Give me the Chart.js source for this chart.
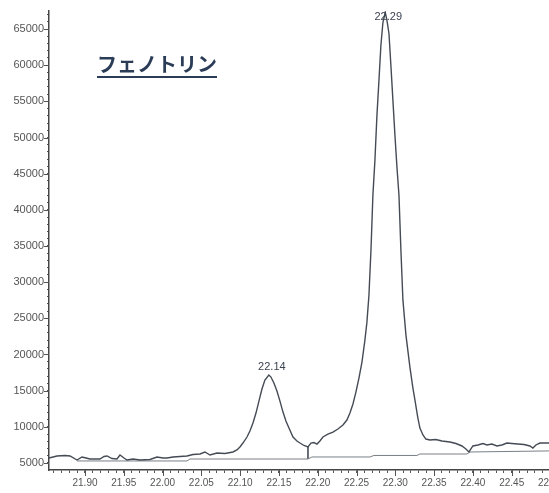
<!DOCTYPE html>
<html>
<head>
<meta charset="utf-8">
<script src="https://cdn.jsdelivr.net/npm/chart.js@4/dist/chart.umd.min.js"></script>
<style>
  html, body { margin: 0; padding: 0; background: #fff; overflow: hidden; width: 549px; height: 493px; }
  #wrap { position: relative; width: 566px; height: 493px; }
  #title {
    position: absolute; left: 97px; top: 54px;
    font: bold 20px/20px 'Noto Sans CJK JP', sans-serif;
    color: #2b3c56;
    text-decoration: underline; text-decoration-thickness: 1.5px; text-underline-offset: 4px;
    white-space: nowrap;
  }
</style>
</head>
<body>
<div id="wrap">
  <canvas id="chart" width="566" height="493"></canvas>
  <div id="title">フェノトリン</div>
</div>
<script>
// Chromatogram trace: retention time (min) and detector response
const retentionTime = [
  21.8536, 21.8639, 21.8742, 21.8807, 21.8897, 21.8961, 21.9013, 21.9064, 21.9193, 21.9245,
  21.9284, 21.9348, 21.9412, 21.9451, 21.9503, 21.9541, 21.9619, 21.9709, 21.9838, 21.9928,
  22.0005, 22.0057, 22.0134, 22.0224, 22.0314, 22.0392, 22.0482, 22.0546, 22.0611, 22.0701,
  22.0804, 22.0907, 22.0958, 22.0997, 22.1036, 22.1088, 22.1126, 22.1165, 22.1204, 22.1242,
  22.1281, 22.1319, 22.137, 22.1397, 22.1435, 22.1474, 22.1513, 22.1552, 22.1590, 22.1629,
  22.1681, 22.1732, 22.1771, 22.1822, 22.1874, 22.1913, 22.1951, 22.1990, 22.2028, 22.2067,
  22.2131, 22.2196, 22.2260, 22.2325, 22.2376, 22.2415, 22.2454, 22.2492, 22.2531, 22.2570,
  22.2608, 22.2634, 22.2660, 22.2686, 22.2711, 22.2737, 22.2763, 22.2789, 22.2814, 22.2840,
  22.287, 22.2892, 22.2918, 22.2943, 22.2969, 22.2995, 22.3021, 22.3047, 22.3072, 22.3098,
  22.3137, 22.3188, 22.3227, 22.3253, 22.3291, 22.3317, 22.3356, 22.3394, 22.3446, 22.3523,
  22.3601, 22.3704, 22.3781, 22.3859, 22.3910, 22.3949, 22.4000, 22.4065, 22.4129, 22.4181,
  22.4245, 22.4310, 22.4374, 22.4439, 22.4503, 22.4580, 22.4658, 22.4735, 22.4773, 22.4812,
  22.4864, 22.4941, 22.5018, 22.52
];
const intensity = [
  5690, 5970, 6040, 5970, 5410, 5830, 5690, 5550, 5550, 5900,
  5970, 5620, 5550, 6100, 5690, 5410, 5550, 5410, 5480, 5830,
  5690, 5690, 5830, 5900, 5970, 6170, 6240, 6520, 6100, 6380,
  6310, 6520, 6800, 7210, 7760, 8590, 9420, 10520, 11900, 13560,
  15220, 16460, 17150, 16880, 16050, 14940, 13560, 12040, 10800, 9830,
  8590, 8040, 7760, 7420, 7210, 7760, 7830, 7620, 8040, 8590,
  9000, 9280, 9700, 10250, 10940, 11900, 13150, 14800, 16740, 18950,
  21990, 24470, 28200, 34420, 42010, 46840, 53060, 57890, 62730, 65900,
  67300, 66180, 64380, 59960, 55130, 50300, 45880, 42010, 34420, 27510,
  22680, 18260, 15360, 13700, 11210, 9830, 8870, 8310, 8180, 8250,
  8040, 7900, 7690, 7350, 6930, 6520, 7350, 7490, 7690, 7490,
  7620, 7350, 7490, 7760, 7690, 7620, 7550, 7350, 7070, 7490,
  7760, 7760, 7760, 7700
];

// Integration baseline
const baselineTime = [21.8897, 22.0314, 22.0353, 22.1874, 22.1925, 22.2673, 22.2724, 22.3279, 22.3317, 22.3923, 22.3962, 22.52];
const baselineLevel = [5280, 5280, 5550, 5550, 5830, 5830, 6040, 6040, 6240, 6240, 6520, 6700];

// Labelled peak apexes and the valley split between them
const peakTimes = [22.137, 22.287];
const valleyTime = 22.1874;

// Axis ranges; tick positions in hundredths of a minute and in counts
const timeMin = 21.8536, timeMax = 22.52;
const responseMin = 4030, responseMax = 67490;
const timeTicksHundredths = [];
for (let h = 2186; h <= 2252; h++) timeTicksHundredths.push(h);
const responseTicks = [];
for (let v = 5000; v <= 67000; v += 1000) responseTicks.push(v);
const timeLabelEvery = 5;      // label every 0.05 min
const responseLabelEvery = 5000;

const trace = retentionTime.map((t, i) => ({ x: t, y: intensity[i] }));
const baseline = baselineTime.map((t, i) => ({ x: t, y: baselineLevel[i] }));
const valleyIdx = retentionTime.indexOf(valleyTime);
const valleyBase = baselineLevel[baselineTime.indexOf(valleyTime)];
const dropLine = [{ x: valleyTime, y: intensity[valleyIdx] }, { x: valleyTime, y: valleyBase }];

const isMajorTime = v => Math.round(v * 100) % timeLabelEvery === 0;
const isMajorResp = v => Math.round(v) % responseLabelEvery === 0;

// Longer tick marks at labelled positions
const majorTicks = {
  id: 'majorTicks',
  afterDraw(chart) {
    const { ctx, chartArea, scales: { x, y } } = chart;
    ctx.save();
    ctx.strokeStyle = '#555';
    ctx.lineWidth = 1;
    ctx.beginPath();
    x.ticks.forEach(t => {
      if (isMajorTime(t.value)) {
        const px = Math.round(x.getPixelForValue(t.value)) + 0.5;
        ctx.moveTo(px, chartArea.bottom);
        ctx.lineTo(px, chartArea.bottom + 6);
      }
    });
    y.ticks.forEach(t => {
      if (isMajorResp(t.value)) {
        const py = Math.round(y.getPixelForValue(t.value)) + 0.5;
        ctx.moveTo(chartArea.left, py);
        ctx.lineTo(chartArea.left - 5, py);
      }
    });
    ctx.stroke();
    ctx.restore();
  }
};

// Retention-time labels over each peak apex
const peakLabels = {
  id: 'peakLabels',
  afterDatasetsDraw(chart) {
    const { ctx, chartArea, scales: { x, y } } = chart;
    ctx.save();
    ctx.font = '11px "Liberation Sans", Arial, sans-serif';
    ctx.fillStyle = '#3a4250';
    ctx.textAlign = 'center';
    ctx.textBaseline = 'middle';
    peakTimes.forEach(t => {
      const i = retentionTime.indexOf(t);
      const px = x.getPixelForValue(t);
      const py = y.getPixelForValue(intensity[i]);
      const ly = Math.max(py - 8, chartArea.top + 6);
      ctx.fillText(t.toFixed(2), px + 3, ly);
    });
    ctx.restore();
  }
};

new Chart(document.getElementById('chart'), {
  type: 'line',
  data: {
    datasets: [
      { data: trace, borderColor: '#454b55', borderWidth: 1.4, pointRadius: 0, tension: 0, fill: false },
      { data: baseline, borderColor: '#7a7f86', borderWidth: 1, pointRadius: 0, tension: 0, fill: false },
      { data: dropLine, borderColor: '#555b63', borderWidth: 1, pointRadius: 0, tension: 0, fill: false }
    ]
  },
  options: {
    responsive: false,
    animation: false,
    parsing: false,
    layout: { padding: { top: 11, right: 0, left: 0, bottom: 0 } },
    plugins: { legend: { display: false }, tooltip: { enabled: false }, title: { display: false } },
    scales: {
      x: {
        type: 'linear',
        min: timeMin, max: timeMax,
        afterBuildTicks(s) { s.ticks = timeTicksHundredths.map(h => ({ value: h / 100 })); },
        afterFit(s) { s.height = 23; s.paddingLeft = 0; s.paddingRight = 0; },
        ticks: {
          autoSkip: false, maxRotation: 0, minRotation: 0,
          padding: 4, color: '#555',
          font: { family: '"Liberation Sans", Arial, sans-serif', size: 10 },
          callback: v => isMajorTime(v) ? (Math.round(v * 100) / 100).toFixed(2) : ''
        },
        grid: { drawOnChartArea: false, tickLength: 3, tickColor: '#555', tickWidth: 1 },
        border: { display: true, color: '#444', width: 1.5 }
      },
      y: {
        type: 'linear',
        min: responseMin, max: responseMax,
        afterBuildTicks(s) { s.ticks = responseTicks.map(v => ({ value: v })); },
        afterFit(s) { s.width = 49; },
        ticks: {
          autoSkip: false, padding: 3, color: '#555',
          font: { family: '"Liberation Sans", Arial, sans-serif', size: 11 },
          callback: v => isMajorResp(v) ? String(Math.round(v)) : ''
        },
        grid: { drawOnChartArea: false, tickLength: 2, tickColor: '#555', tickWidth: 1 },
        border: { display: true, color: '#444', width: 1.5 }
      }
    }
  },
  plugins: [majorTicks, peakLabels]
});
</script>
</body>
</html>
